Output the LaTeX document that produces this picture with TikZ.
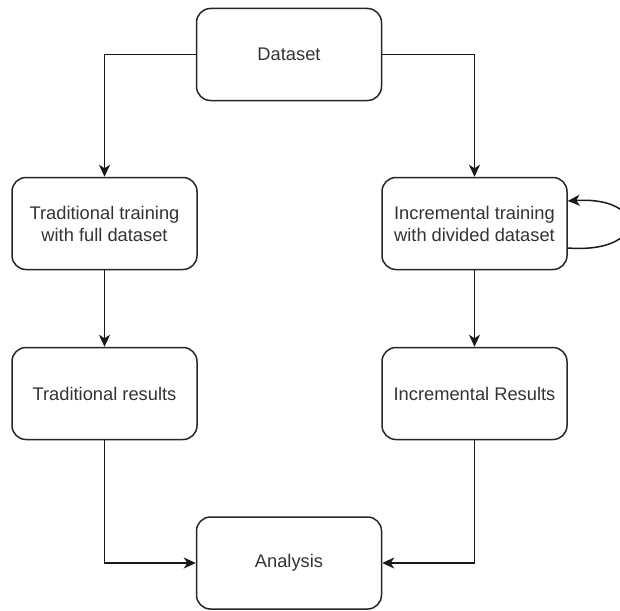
\documentclass[tikz,border=0pt]{standalone}
\usepackage{fontspec}
\setmainfont{Liberation Sans}
\usetikzlibrary{arrows.meta}
\begin{document}
\begin{tikzpicture}[x=1pt,y=-1pt,
  stage/.style={draw=black!85, line width=1.5pt, rounded corners=14pt,
    minimum width=185pt, minimum height=92pt, inner sep=0pt, align=center,
    font=\fontsize{18.3}{22}\selectfont, text=black!80},
  arr/.style={draw=black!90, line width=1.5pt,
    -{Stealth[length=12pt,width=11pt,inset=3.5pt]}}]
  \useasboundingbox (0,0) rectangle (620,610);
  % stages of the experiment
  \node[stage] (ds) at (289,54.5) {Dataset};
  \node[stage] (tt) at (104.5,223.5) {Traditional training\\with full dataset};
  \node[stage] (it) at (474.5,223.5) {Incremental training\\with divided dataset};
  \node[stage] (tr) at (104.5,393.5) {Traditional results};
  \node[stage] (ir) at (474.5,393.5) {Incremental Results};
  \node[stage] (an) at (289,563) {Analysis};
  % flow between stages
  \draw[arr] (ds.west) -| (tt.north);
  \draw[arr] (ds.east) -| (it.north);
  \draw[arr] (tt.south) -- (tr.north);
  \draw[arr] (it.south) -- (ir.north);
  \draw[arr] (tr.south) |- (an.west);
  \draw[arr] (ir.south) |- (an.east);
  % repeated incremental rounds
  \draw[arr] ([yshift=-24.5pt]it.east) .. controls (648,254) and (648,196) .. ([yshift=22.5pt]it.east);
\end{tikzpicture}
\end{document}
